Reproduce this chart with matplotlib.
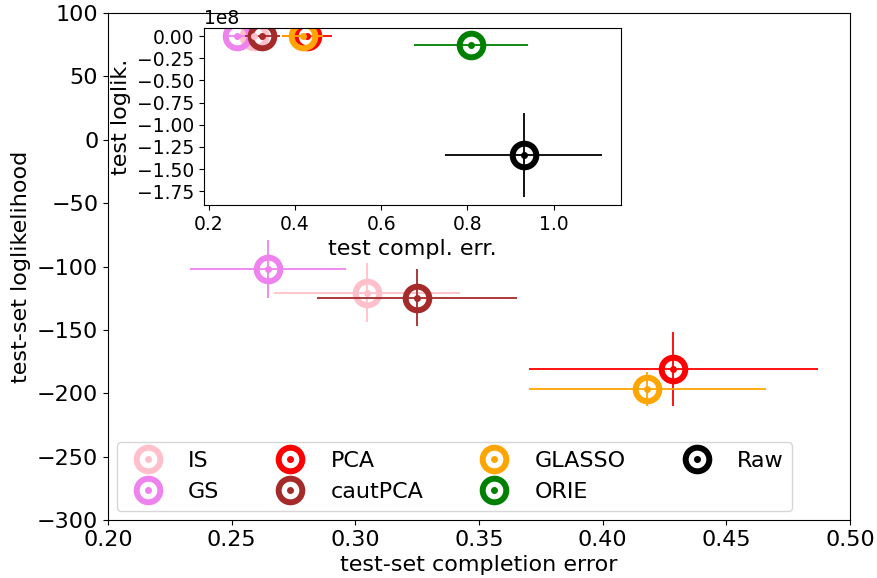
import matplotlib
matplotlib.use('Agg')
import matplotlib.pyplot as plt
from matplotlib.ticker import MultipleLocator

methods = ['IS', 'GS', 'PCA', 'cautPCA', 'GLASSO', 'ORIE', 'Raw']
colors = ['pink', 'violet', 'red', 'brown', 'orange', 'green', 'black']
compl_err = [0.3047, 0.2647, 0.4285, 0.3248, 0.4181, 0.809, 0.9307]
compl_err_sd = [0.0376, 0.0317, 0.0584, 0.0404, 0.0479, 0.132, 0.1815]
loglik = [-120.7, -102.0, -181.1, -124.6, -196.6, -1.05e7, -1.340e8]
loglik_sd = [23.3, 23.0, 29.3, 22.4, 13.5, 3e6, 0.474e8]

fig = plt.figure(figsize=(8.78, 5.78), dpi=100)
ax = fig.add_axes([0.123, 0.1003, 0.8451, 0.8772])
axin = fig.add_axes([0.2323, 0.6453, 0.4749, 0.3062])

def draw(a):
    handles = []
    for i in range(len(methods)):
        a.errorbar(compl_err[i], loglik[i], xerr=compl_err_sd[i], yerr=loglik_sd[i],
                   fmt='.', color=colors[i], markersize=8, elinewidth=1.3)
        ring, = a.plot(compl_err[i], loglik[i], 'o', mfc='none', mec=colors[i],
                       markersize=17, mew=4.3)
        dot, = a.plot([], [], '.', color=colors[i], markersize=8)
        handles.append((ring, dot))
    return handles

handles = draw(ax)
draw(axin)

ax.set_xlim(0.2, 0.5)
ax.set_ylim(-300, 100)
ax.tick_params(labelsize=16)
ax.set_xlabel('test-set completion error', fontsize=16)
ax.set_ylabel('test-set loglikelihood', fontsize=16)
ax.legend(handles, methods, ncol=4, loc='lower left', fontsize=16,
          columnspacing=2.2, borderaxespad=0.4)

axin.tick_params(labelsize=13.5)
axin.yaxis.get_offset_text().set_fontsize(13.5)
axin.set_xticks([0.2, 0.4, 0.6, 0.8, 1.0])
axin.yaxis.set_major_locator(MultipleLocator(0.25e8))
axin.set_xlabel('test compl. err.', fontsize=16)
axin.set_ylabel('test loglik.', fontsize=16)

fig.savefig('out.png', dpi=100)
